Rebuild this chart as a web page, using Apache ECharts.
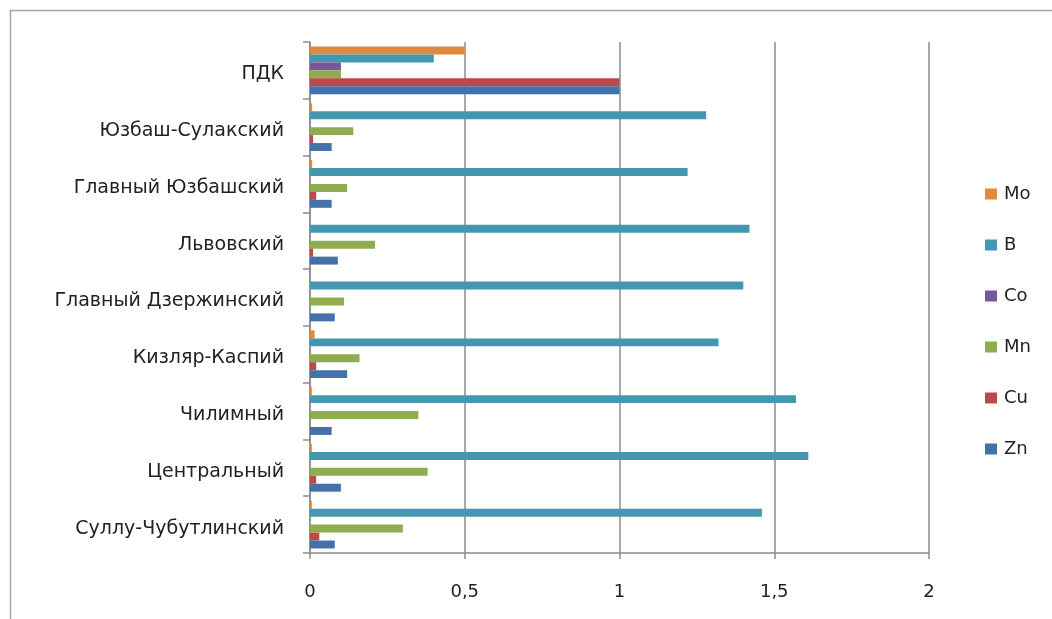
<!DOCTYPE html>
<html>
<head>
<meta charset="utf-8">
<script src="https://cdn.jsdelivr.net/npm/echarts@6/dist/echarts.min.js"></script>
<style>
html,body{margin:0;padding:0;background:#fff;}
#chart{width:1052px;height:619px;}
</style>
</head>
<body>
<div id="chart"></div>
<script>
// категории снизу вверх (как в Excel)
var categories = ['Суллу-Чубутлинский', 'Центральный', 'Чилимный', 'Кизляр-Каспий',
	'Главный Дзержинский', 'Львовский', 'Главный Юзбашский', 'Юзбаш-Сулакский', 'ПДК'];
var xTicks = [0, 0.5, 1, 1.5, 2];

var mo = [0.006, 0.006, 0.006, 0.015, 0, 0, 0.007, 0.007, 0.5];
var b  = [1.46, 1.61, 1.57, 1.32, 1.40, 1.42, 1.22, 1.28, 0.4];
var co = [0, 0, 0, 0, 0, 0, 0, 0, 0.1];
var mn = [0.30, 0.38, 0.35, 0.16, 0.11, 0.21, 0.12, 0.14, 0.1];
var cu = [0.03, 0.02, 0, 0.02, 0, 0.01, 0.02, 0.01, 1.0];
var zn = [0.08, 0.10, 0.07, 0.12, 0.08, 0.09, 0.07, 0.07, 1.0];

var font = 'DejaVu Sans';
function bar(name, data, color){
	return {
		name: name,
		type: 'bar',
		data: data,
		barGap: '0%',
		barCategoryGap: '16%',
		itemStyle: {color: color}
	};
}

var option = {
	animation: false,
	backgroundColor: '#fff',
	graphic: [{
		type: 'rect',
		shape: {x: 10.5, y: 10.5, width: 1100, height: 700},
		style: {fill: 'none', stroke: '#a6a6a6', lineWidth: 1.5}
	}],
	legend: {
		orient: 'vertical',
		left: 980,
		top: 180,
		itemWidth: 12,
		itemHeight: 11,
		itemGap: 33,
		icon: 'rect',
		textStyle: {fontFamily: font, fontSize: 18, color: '#222', padding: [0, 0, 0, 2]}
	},
	grid: {left: 310, right: 123, top: 42, bottom: 66},
	xAxis: {
		type: 'value',
		min: xTicks[0],
		max: xTicks[xTicks.length - 1],
		interval: 0.5,
		axisLine: {show: true, lineStyle: {color: '#8c8c8c', width: 1.5}},
		axisTick: {show: true, length: 6, lineStyle: {color: '#8c8c8c', width: 1.5}},
		splitLine: {show: true, lineStyle: {color: '#8c8c8c', width: 1.5}},
		axisLabel: {
			margin: 30,
			fontFamily: font, fontSize: 18, color: '#222',
			formatter: function(v){ return String(v).replace('.', ','); }
		}
	},
	yAxis: {
		type: 'category',
		data: categories,
		axisLine: {show: true, lineStyle: {color: '#8c8c8c', width: 1.5}},
		axisTick: {show: true, length: 7, lineStyle: {color: '#8c8c8c', width: 1.5}},
		axisLabel: {
			margin: 26,
			formatter: function(v){ return '{c|' + v + '}'; },
			rich: {c: {fontFamily: font, fontSize: 19, color: '#222', padding: [8, 0, 0, 0]}}
		}
	},
	series: [
		bar('Mo', mo, '#E0883C'),
		bar('B', b, '#4398B0'),
		bar('Co', co, '#77589A'),
		bar('Mn', mn, '#8FAD50'),
		bar('Cu', cu, '#B94A48'),
		bar('Zn', zn, '#4571AA')
	]
};
var chart = echarts.init(document.getElementById('chart'));
chart.setOption(option);
</script>
</body>
</html>
